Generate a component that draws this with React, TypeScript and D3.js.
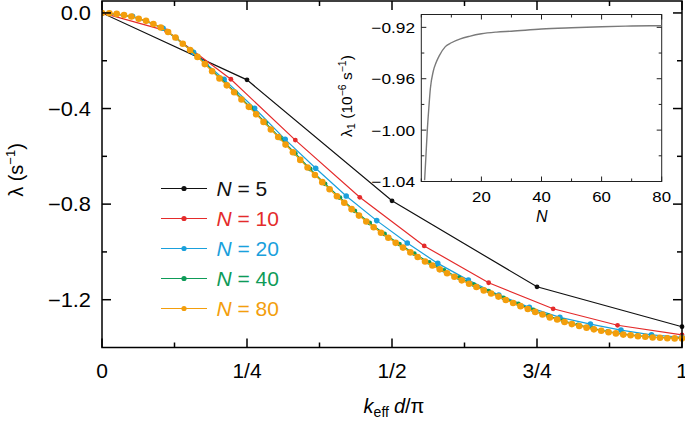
import React from 'react';
import * as d3 from 'd3';

// ---- data ----
const xTickValues = [0, 0.25, 0.5, 0.75, 1];
const xTickLabels = ['0', '1/4', '1/2', '3/4', '1'];
const xMinorTicks = [0.125, 0.375, 0.625, 0.875];
const yTickValues = [0, -0.4, -0.8, -1.2];
const yTickLabels = ['0.0', '\u22120.4', '\u22120.8', '\u22121.2'];
const yMinorTicks = [-0.2, -0.6, -1.0];

const seriesN = [5, 10, 20, 40, 80];
const seriesColors = ['#111111', '#e42b2b', '#1aa0dc', '#0e9b58', '#f39e0c'];
const seriesRadius = [2.4, 2.4, 2.8, 2.4, 3.3];

const lambdaN5 = [0, -0.28, -0.786, -1.146, -1.313];
const lambdaN10 = [0, -0.075, -0.2775, -0.532, -0.7715, -0.975, -1.129, -1.238, -1.307, -1.347];
const lambdaN20 = [0, -0.014, -0.064, -0.165, -0.278, -0.399, -0.529, -0.65, -0.766, -0.869,
  -0.963, -1.048, -1.118, -1.18, -1.232, -1.274, -1.302, -1.327, -1.347, -1.357];
const lambdaN40 = [0, -0.004, -0.016, -0.033, -0.062, -0.105, -0.157, -0.215, -0.275, -0.334,
  -0.396, -0.46, -0.524, -0.588, -0.653, -0.715, -0.773, -0.828, -0.879, -0.925,
  -0.967, -1.007, -1.044, -1.077, -1.108, -1.137, -1.164, -1.192, -1.218, -1.243,
  -1.267, -1.288, -1.305, -1.32, -1.333, -1.343, -1.35, -1.356, -1.359, -1.36];
const lambdaN80 = [0, -0.001, -0.004, -0.009, -0.015, -0.024, -0.033, -0.046, -0.061, -0.08,
  -0.103, -0.129, -0.155, -0.184, -0.214, -0.244, -0.274, -0.303, -0.332, -0.362,
  -0.393, -0.424, -0.456, -0.488, -0.519, -0.551, -0.583, -0.615, -0.647, -0.678,
  -0.708, -0.738, -0.767, -0.794, -0.821, -0.848, -0.873, -0.897, -0.92, -0.941,
  -0.962, -0.982, -1.002, -1.021, -1.04, -1.057, -1.073, -1.089, -1.104, -1.119,
  -1.133, -1.147, -1.161, -1.174, -1.187, -1.201, -1.214, -1.227, -1.239, -1.251,
  -1.262, -1.274, -1.283, -1.293, -1.302, -1.31, -1.317, -1.324, -1.33, -1.336,
  -1.341, -1.346, -1.349, -1.353, -1.355, -1.358, -1.359, -1.361, -1.362, -1.362];
const seriesValues = [lambdaN5, lambdaN10, lambdaN20, lambdaN40, lambdaN80];

// inset
const insetN = [1.1, 1.5, 2, 2.5, 3, 4, 5, 6, 8, 10, 13, 16, 20, 25, 30, 40, 50, 60, 70, 80];
const insetLambda = [-1.039, -1.022, -1.0, -0.983, -0.968, -0.954, -0.947, -0.942, -0.935, -0.932,
  -0.929, -0.927, -0.925, -0.9237, -0.923, -0.9213, -0.9203, -0.9195, -0.919, -0.9187];
const insetXTicks = [20, 40, 60, 80];
const insetXMinor = [0, 10, 30, 50, 70];
const insetYTicks = [-0.92, -0.96, -1.0, -1.04];
const insetYTickLabels = ['\u22120.92', '\u22120.96', '\u22121.00', '\u22121.04'];
const insetYMinor = [-0.94, -0.98, -1.02];

const FONT = "'Liberation Sans', Arial, Helvetica, sans-serif";

export default function App() {
  const x = d3.scaleLinear().domain([0, 1]).range([102, 682]);
  const y = d3.scaleLinear().domain([-1.4, 0.05]).range([347.5, 1]);
  const xi = d3.scaleLinear().domain([0, 80]).range([421.3, 661.7]);
  const yi = d3.scaleLinear().domain([-1.04, -0.91]).range([181.5, 14.5]);

  const line = d3.line<[number, number]>().x(d => x(d[0])).y(d => y(d[1]));
  const insetLine = d3.line<[number, number]>().x(d => xi(d[0])).y(d => yi(d[1])).curve(d3.curveMonotoneX);

  const series = seriesN.map((n, s) => {
    const pts: [number, number][] = seriesValues[s].map((v, j) => [j / (n - 1), v]);
    return { n, color: seriesColors[s], r: seriesRadius[s], pts };
  });

  const [x0, x1] = x.range();
  const [yb, yt] = y.range();
  const [ix0, ix1] = xi.range();
  const [iyb, iyt] = yi.range();
  const insetPts: [number, number][] = insetN.map((n, i) => [n, insetLambda[i]]);

  const legendY0 = 188.5;
  const legendStep = 30;

  return (
    <svg width={685} height={421} style={{ position: 'absolute', left: 0, top: 0, background: '#fff' }}
      fontFamily={FONT}>
      <defs>
        <clipPath id="insetClip">
          <rect x={ix0} y={iyt} width={ix1 - ix0} height={iyb - iyt} />
        </clipPath>
        <clipPath id="mainClip">
          <rect x={x0} y={yt} width={x1 - x0 + 4} height={yb - yt} />
        </clipPath>
      </defs>

      {/* series */}
      <g clipPath="url(#mainClip)">
        {series.map(s => (
          <g key={s.n}>
            <path d={line(s.pts) || ''} fill="none" stroke={s.color} strokeWidth={1.2} />
            {s.pts.map((p, j) => (
              <circle key={j} cx={x(p[0])} cy={y(p[1])} r={s.r} fill={s.color} />
            ))}
          </g>
        ))}
      </g>

      {/* main frame */}
      <rect x={x0} y={yt} width={x1 - x0} height={yb - yt} fill="none" stroke="#000" strokeWidth={1.5} />
      {xTickValues.map(v => (
        <g key={'xt' + v}>
          <line x1={x(v)} x2={x(v)} y1={yb} y2={yb - 9} stroke="#000" strokeWidth={1.5} />
          <line x1={x(v)} x2={x(v)} y1={yt} y2={yt + 9} stroke="#000" strokeWidth={1.5} />
        </g>
      ))}
      {xMinorTicks.map(v => (
        <g key={'xm' + v}>
          <line x1={x(v)} x2={x(v)} y1={yb} y2={yb - 5} stroke="#000" strokeWidth={1.5} />
          <line x1={x(v)} x2={x(v)} y1={yt} y2={yt + 5} stroke="#000" strokeWidth={1.5} />
        </g>
      ))}
      {yTickValues.map(v => (
        <g key={'yt' + v}>
          <line x1={x0} x2={x0 + 9} y1={y(v)} y2={y(v)} stroke="#000" strokeWidth={1.5} />
          <line x1={x1} x2={x1 - 9} y1={y(v)} y2={y(v)} stroke="#000" strokeWidth={1.5} />
        </g>
      ))}
      {yMinorTicks.map(v => (
        <g key={'ym' + v}>
          <line x1={x0} x2={x0 + 5} y1={y(v)} y2={y(v)} stroke="#000" strokeWidth={1.5} />
          <line x1={x1} x2={x1 - 5} y1={y(v)} y2={y(v)} stroke="#000" strokeWidth={1.5} />
        </g>
      ))}

      {/* main tick labels */}
      {xTickValues.map((v, i) => (
        <text key={'xl' + v} transform={`translate(${x(v)},378) scale(1.05,1)`} textAnchor="middle"
          fontSize={20} fill="#000">{xTickLabels[i]}</text>
      ))}
      {yTickValues.map((v, i) => (
        <text key={'yl' + v} transform={`translate(91,${y(v) + 7}) scale(1.12,1)`} textAnchor="end"
          fontSize={19.5} fill="#000">{yTickLabels[i]}</text>
      ))}

      {/* axis titles */}
      <text x={394} y={413} textAnchor="middle" fontSize={20} fill="#000">
        <tspan fontStyle="italic">k</tspan>
        <tspan fontSize={14} dy={4}>eff</tspan>
        <tspan dy={-4} dx={5} fontStyle="italic">d</tspan>
        <tspan>/π</tspan>
      </text>
      <text transform="translate(23,170) rotate(-90)" textAnchor="middle" fontSize={20} fill="#000">
        <tspan>λ (s</tspan>
        <tspan fontSize={13} dy={-8}>−1</tspan>
        <tspan dy={8}>)</tspan>
      </text>

      {/* legend */}
      {series.map((s, i) => {
        const ly = legendY0 + i * legendStep;
        return (
          <g key={'lg' + s.n}>
            <line x1={161} x2={207} y1={ly} y2={ly} stroke={s.color} strokeWidth={1.2} />
            <circle cx={184} cy={ly} r={2.6} fill={s.color} />
            <text x={216.5} y={ly + 7.5} fontSize={21} fill={s.color}>
              <tspan fontStyle="italic">N</tspan>
              <tspan> = {s.n}</tspan>
            </text>
          </g>
        );
      })}

      {/* inset */}
      <rect x={ix0} y={iyt} width={ix1 - ix0} height={iyb - iyt} fill="#fff" stroke="#222" strokeWidth={1} />
      <path d={insetLine(insetPts) || ''} fill="none" stroke="#7a7a7a" strokeWidth={1.4} clipPath="url(#insetClip)" />
      {insetXTicks.map(v => (
        <g key={'ixt' + v}>
          <line x1={xi(v)} x2={xi(v)} y1={iyb} y2={iyb - 5} stroke="#222" strokeWidth={1} />
          <line x1={xi(v)} x2={xi(v)} y1={iyt} y2={iyt + 5} stroke="#222" strokeWidth={1} />
        </g>
      ))}
      {insetXMinor.map(v => (
        <g key={'ixm' + v}>
          <line x1={xi(v)} x2={xi(v)} y1={iyb} y2={iyb - 3} stroke="#222" strokeWidth={1} />
          <line x1={xi(v)} x2={xi(v)} y1={iyt} y2={iyt + 3} stroke="#222" strokeWidth={1} />
        </g>
      ))}
      {insetYTicks.map(v => (
        <g key={'iyt' + v}>
          <line x1={ix0} x2={ix0 + 5} y1={yi(v)} y2={yi(v)} stroke="#222" strokeWidth={1} />
          <line x1={ix1} x2={ix1 - 5} y1={yi(v)} y2={yi(v)} stroke="#222" strokeWidth={1} />
        </g>
      ))}
      {insetYMinor.map(v => (
        <g key={'iym' + v}>
          <line x1={ix0} x2={ix0 + 3} y1={yi(v)} y2={yi(v)} stroke="#222" strokeWidth={1} />
          <line x1={ix1} x2={ix1 - 3} y1={yi(v)} y2={yi(v)} stroke="#222" strokeWidth={1} />
        </g>
      ))}
      {insetXTicks.map(v => (
        <text key={'ixl' + v} transform={`translate(${xi(v)},202) scale(1.12,1)`} textAnchor="middle"
          fontSize={15} fill="#000">{v}</text>
      ))}
      {insetYTicks.map((v, i) => (
        <text key={'iyl' + v} transform={`translate(415,${yi(v) + 5.4}) scale(1.15,1)`} textAnchor="end"
          fontSize={15} fill="#000">{insetYTickLabels[i]}</text>
      ))}
      <text x={541.7} y={222} textAnchor="middle" fontSize={16} fontStyle="italic" fill="#000">N</text>
      <text transform="translate(352,96) rotate(-90)" textAnchor="middle" fontSize={15.5} fill="#000">
        <tspan>λ</tspan>
        <tspan fontSize={11} dy={3}>1</tspan>
        <tspan dy={-3}> (10</tspan>
        <tspan fontSize={10.5} dy={-6}>−6</tspan>
        <tspan dy={6}> s</tspan>
        <tspan fontSize={10.5} dy={-6}>−1</tspan>
        <tspan dy={6}>)</tspan>
      </text>
    </svg>
  );
}
